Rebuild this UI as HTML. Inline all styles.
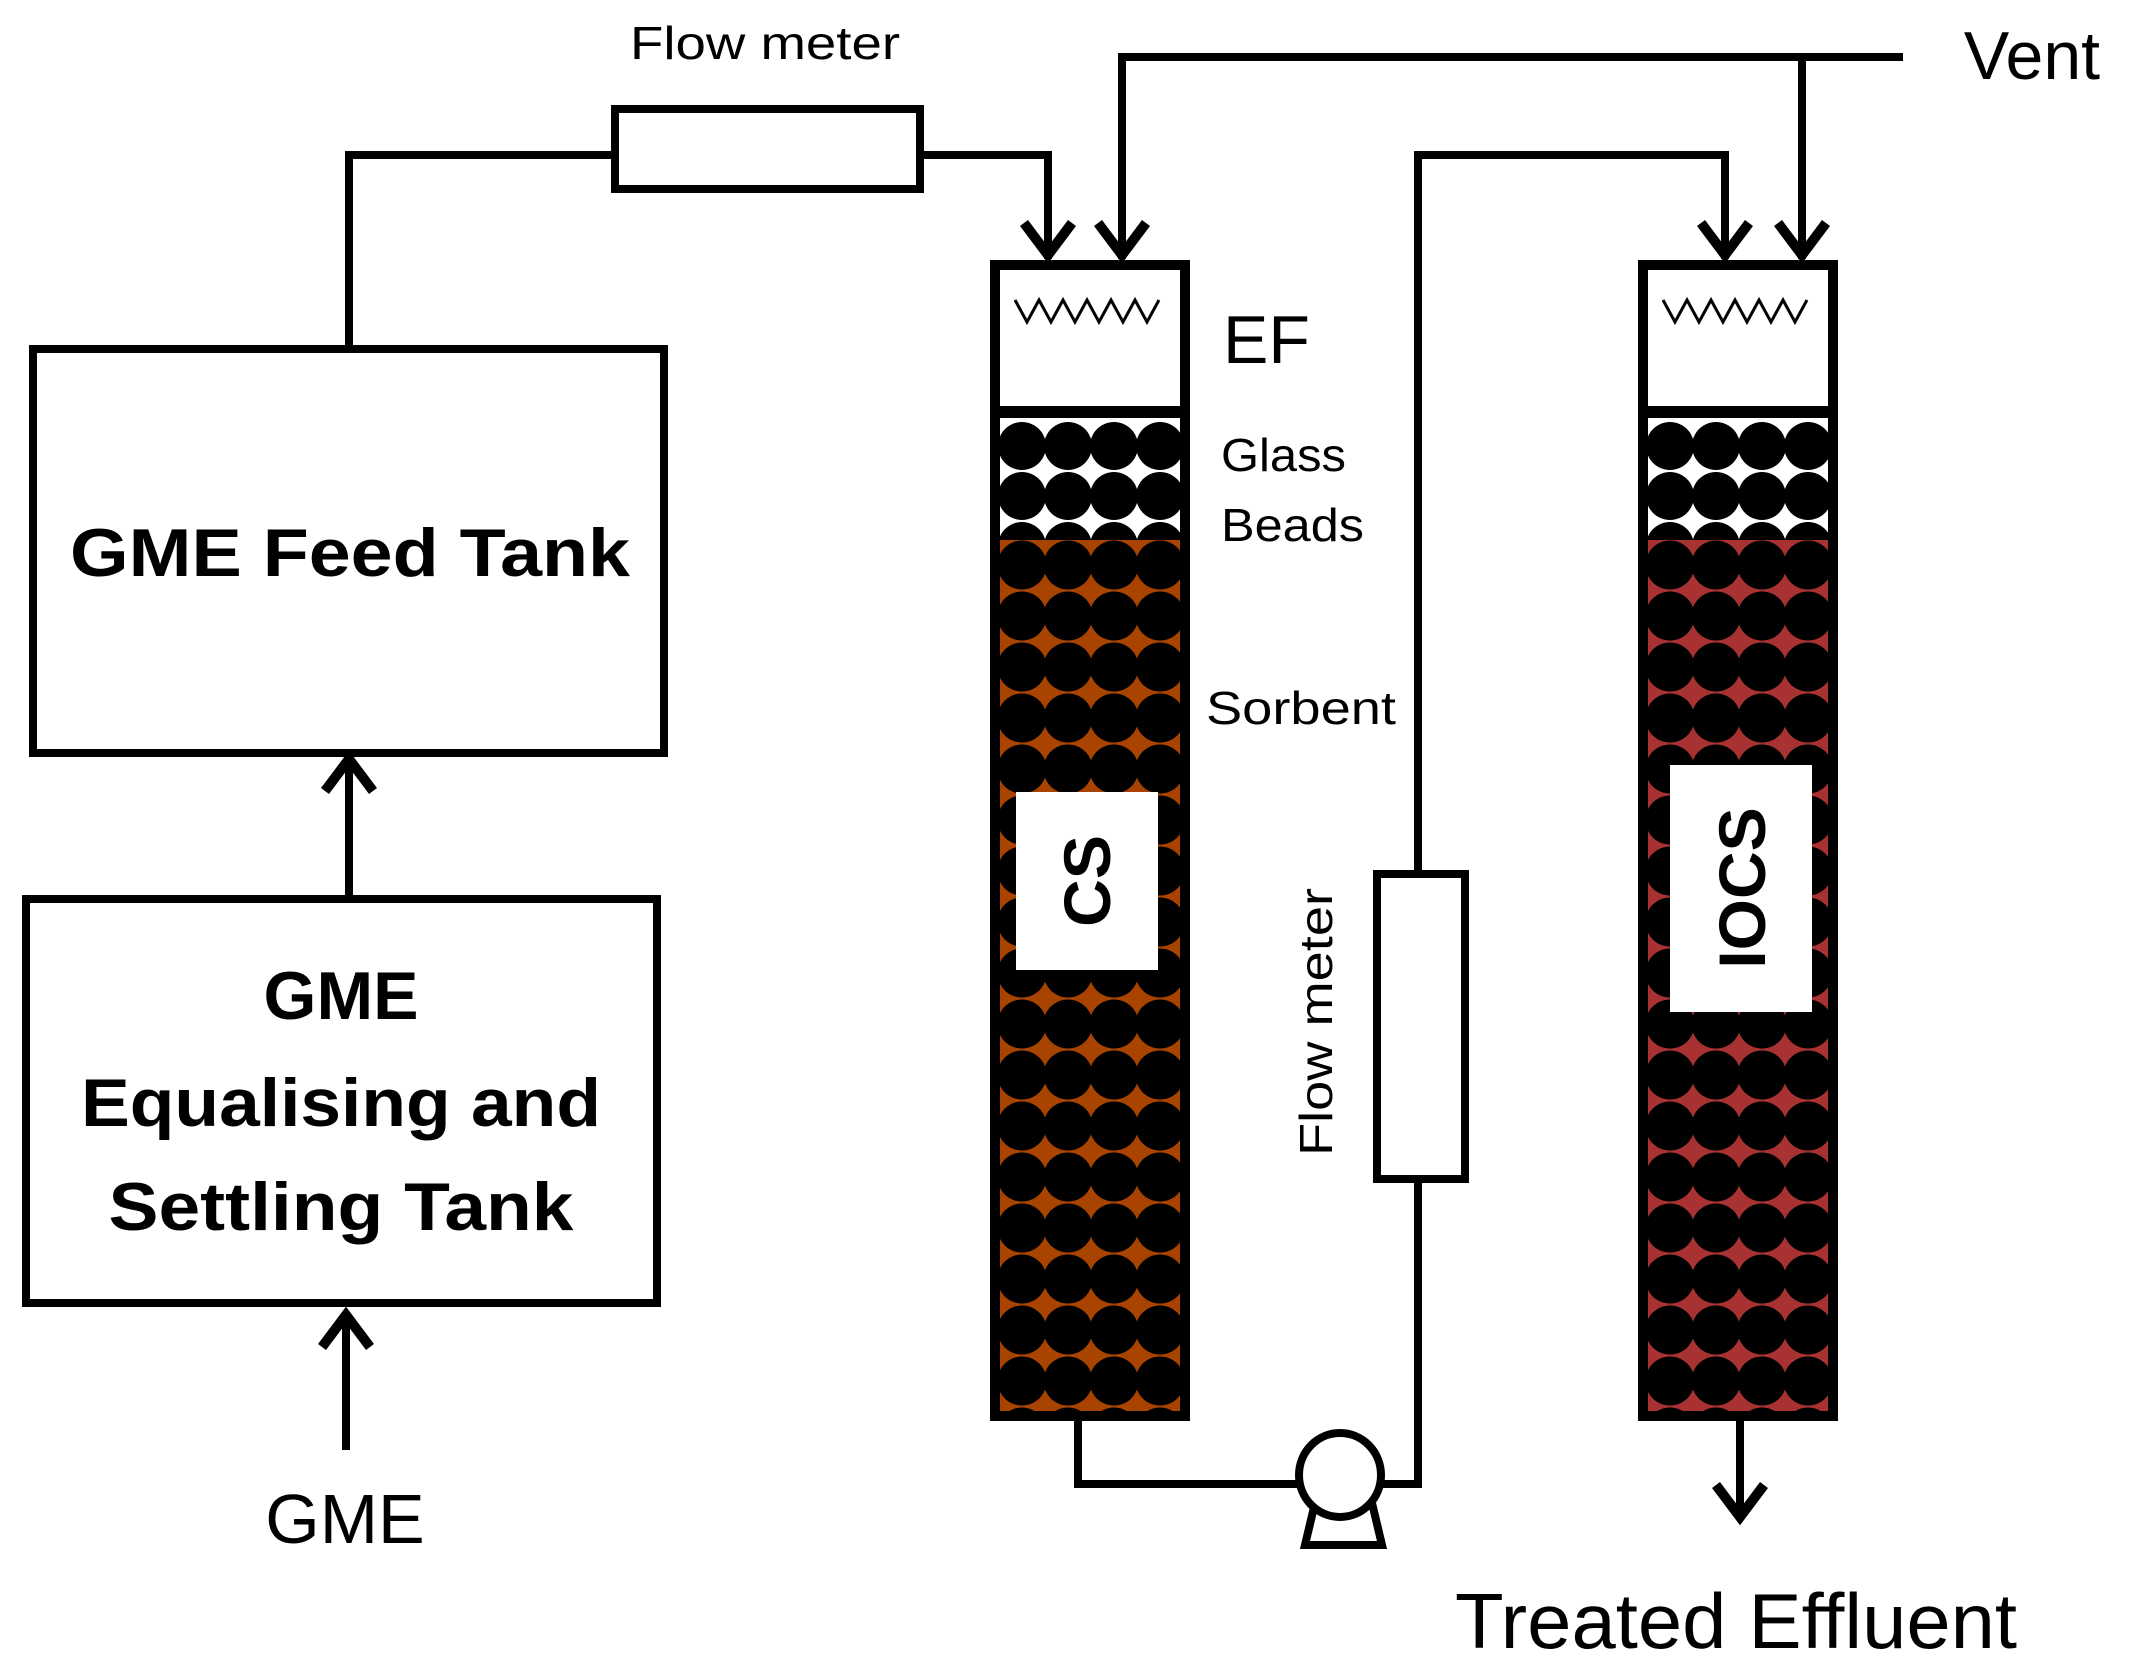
<!DOCTYPE html>
<html><head><meta charset="utf-8"><style>
html,body{margin:0;padding:0;background:#fff}
svg{display:block}
text{font-family:"Liberation Sans",sans-serif;fill:#000}
</style></head><body>
<svg width="2139" height="1674" viewBox="0 0 2139 1674" xmlns="http://www.w3.org/2000/svg">
<defs>
<pattern id="pcs" x="1004" y="543" width="46" height="51" patternUnits="userSpaceOnUse">
<rect width="46" height="51" fill="#a84300"/>
<circle cx="23" cy="25" r="24.5" fill="#000"/>
</pattern>
<pattern id="pio" x="1652" y="543" width="46" height="51" patternUnits="userSpaceOnUse">
<rect width="46" height="51" fill="#a83232"/>
<circle cx="23" cy="25" r="24.5" fill="#000"/>
</pattern>
<pattern id="pgb" x="1004" y="424" width="46" height="50" patternUnits="userSpaceOnUse">
<rect width="46" height="50" fill="#fff"/>
<circle cx="23" cy="25" r="24" fill="#000"/>
</pattern>
<pattern id="pgb2" x="1652" y="424" width="46" height="50" patternUnits="userSpaceOnUse">
<rect width="46" height="50" fill="#fff"/>
<circle cx="23" cy="25" r="24" fill="#000"/>
</pattern>
</defs>
<g transform="translate(-5,-3)">
<g fill="none" stroke="#000" stroke-width="8">
<rect x="38" y="352" width="631" height="404"/>
<rect x="31" y="902" width="631" height="404"/>
<line x1="354" y1="898" x2="354" y2="762"/>
<polyline points="330,794 354,762 378,794" stroke-width="10"/>
<line x1="351" y1="1453" x2="351" y2="1318"/>
<polyline points="327,1350 351,1318 375,1350" stroke-width="10"/>
<polyline points="354,352 354,158 620,158"/>
<rect x="620" y="112" width="305" height="80"/>
<polyline points="925,158 1053,158 1053,262"/>
<polyline points="1029,226 1053,258 1077,226" stroke-width="10"/>
<polyline points="1127,262 1127,60 1908,60"/>
<polyline points="1103,226 1127,258 1151,226" stroke-width="10"/>
<line x1="1807" y1="60" x2="1807" y2="262"/>
<polyline points="1783,226 1807,258 1831,226" stroke-width="10"/>
<polyline points="1423,877 1423,158 1730,158 1730,262"/>
<polyline points="1706,226 1730,258 1754,226" stroke-width="10"/>
<rect x="1382" y="877" width="88" height="305"/>
<polyline points="1423,1182 1423,1487 1385,1487"/>
<polyline points="1083,1422 1083,1487 1303,1487"/>
<line x1="1745" y1="1422" x2="1745" y2="1520"/>
<polyline points="1721,1488 1745,1520 1769,1488" stroke-width="10"/>
</g>
<path d="M1320,1506 L1310,1548 L1387,1548 L1377,1506" fill="#fff" stroke="#000" stroke-width="8"/>
<ellipse cx="1345" cy="1478" rx="41" ry="42" fill="#fff" stroke="#000" stroke-width="8"/>
<rect x="1000" y="268" width="190" height="1151" fill="#fff"/>
<rect x="1004" y="424" width="182" height="120" fill="url(#pgb)"/>
<rect x="1004" y="543" width="182" height="873" fill="url(#pcs)"/>
<rect x="1000" y="268" width="190" height="1151" fill="none" stroke="#000" stroke-width="10"/>
<line x1="1000" y1="415" x2="1190" y2="415" stroke="#000" stroke-width="12"/>
<polyline points="1020,303 1032,325 1044,303 1056,325 1068,303 1080,325 1092,303 1104,325 1116,303 1128,325 1140,303 1152,325 1164,303" fill="none" stroke="#000" stroke-width="3"/>
<rect x="1021" y="795" width="142" height="178" fill="#fff"/>
<text transform="translate(1115,884) rotate(-90)" font-size="66" font-weight="bold" text-anchor="middle">CS</text>
<rect x="1648" y="268" width="190" height="1151" fill="#fff"/>
<rect x="1652" y="424" width="182" height="120" fill="url(#pgb2)"/>
<rect x="1652" y="543" width="182" height="873" fill="url(#pio)"/>
<rect x="1648" y="268" width="190" height="1151" fill="none" stroke="#000" stroke-width="10"/>
<line x1="1648" y1="415" x2="1838" y2="415" stroke="#000" stroke-width="12"/>
<polyline points="1668,303 1680,325 1692,303 1704,325 1716,303 1728,325 1740,303 1752,325 1764,303 1776,325 1788,303 1800,325 1812,303" fill="none" stroke="#000" stroke-width="3"/>
<rect x="1675" y="768" width="142" height="247" fill="#fff"/>
<text transform="translate(1770,891) rotate(-90)" font-size="66" font-weight="bold" text-anchor="middle">IOCS</text>
<text x="355" y="579" font-size="68" font-weight="bold" text-anchor="middle" textLength="560" lengthAdjust="spacingAndGlyphs">GME Feed Tank</text>
<text x="346" y="1022" font-size="68" font-weight="bold" text-anchor="middle">GME</text>
<text x="346" y="1129" font-size="68" font-weight="bold" text-anchor="middle" textLength="520" lengthAdjust="spacingAndGlyphs">Equalising and</text>
<text x="346" y="1233" font-size="68" font-weight="bold" text-anchor="middle" textLength="465" lengthAdjust="spacingAndGlyphs">Settling Tank</text>
<text x="350" y="1546" font-size="70" text-anchor="middle">GME</text>
<text x="770" y="62" font-size="46" text-anchor="middle" textLength="270" lengthAdjust="spacingAndGlyphs">Flow meter</text>
<text x="2037" y="82" font-size="68" text-anchor="middle">Vent</text>
<text x="1228" y="366" font-size="68">EF</text>
<text x="1226" y="474" font-size="46" textLength="125" lengthAdjust="spacingAndGlyphs">Glass</text>
<text x="1226" y="544" font-size="46" textLength="143" lengthAdjust="spacingAndGlyphs">Beads</text>
<text x="1211" y="727" font-size="46" textLength="190" lengthAdjust="spacingAndGlyphs">Sorbent</text>
<text transform="translate(1337,1025) rotate(-90)" font-size="46" text-anchor="middle" textLength="268" lengthAdjust="spacingAndGlyphs">Flow meter</text>
<text x="1741" y="1651" font-size="78" text-anchor="middle" textLength="562" lengthAdjust="spacingAndGlyphs">Treated Effluent</text>
</g>
</svg>
</body></html>
